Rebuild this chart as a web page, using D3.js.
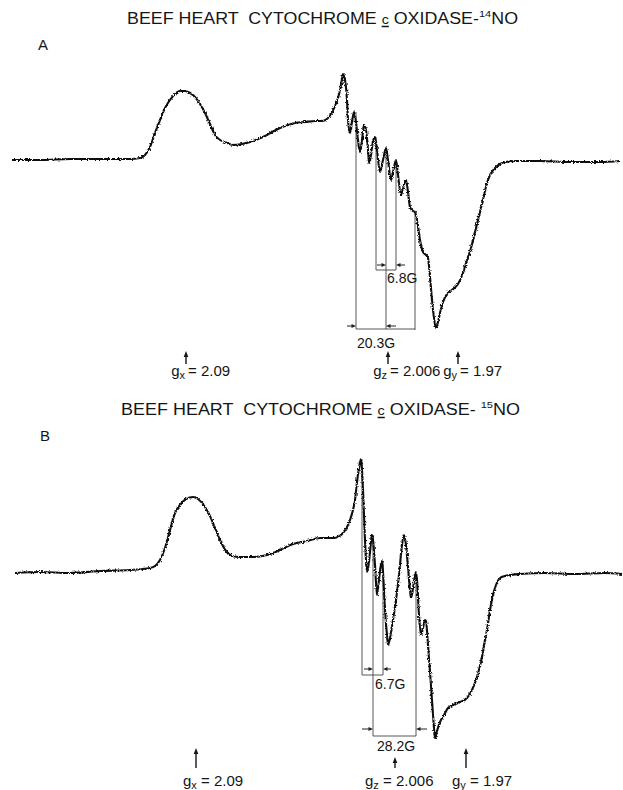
<!DOCTYPE html>
<html>
<head>
<meta charset="utf-8">
<script src="https://cdn.jsdelivr.net/npm/d3@7"></script>
<style>
  body { margin: 0; background: #fff; }
  svg { display: block; }
  text { font-family: "Liberation Sans", Arial, sans-serif; fill: #151515; white-space: pre; }
</style>
</head>
<body>
<svg id="fig" width="623" height="790"></svg>
<script>
// ── Data ──────────────────────────────────
// EPR first-derivative traces: [field position (arb. units), amplitude above baseline]
const specA = [
  [12,0],[40,0],[70,1],[100,1],[130,1],[140,2],[145,5],[150,13],[155,27],[160,40],[165,52],
  [170,60],[175,66],[180,69],[185,69],[190,67],[195,63],[200,56],[205,47],[210,36],[215,25],
  [220,20],[225,18],[233,15],[242,16],[250,18],[258,21],[265,24],[272,28],[280,32],[288,35],
  [295,37],[305,38],[315,39],[322,39],[327,41],[331,46],[335,54],[338,62],[340,70],[342,81],
  [343,86],[345,80],[347,60],[348,40],[350,27],[352,38],[354,48],[356,38],[358,20],[360,8],
  [362,20],[364,35],[366,30],[368,10],[369,-3],[371,5],[373,19],[375,23],[377,10],[380,-12],
  [383,0],[386,12],[388,0],[391,-20],[393,-12],[396,0],[398,-15],[401,-35],[403,-28],[406,-20],
  [408,-32],[410,-47],[413,-51],[415,-52],[417,-60],[420,-80],[423,-92],[426,-95],[428,-98],
  [430,-117],[432,-140],[434,-158],[436,-168],[438,-162],[440,-153],[443,-142],[447,-134],
  [452,-130],[458,-124],[463,-113],[467,-100],[471,-88],[475,-72],[480,-52],[484,-35],[487,-23],
  [490,-15],[494,-9],[500,-4],[506,-2],[515,-1],[540,-1],[570,-2],[600,-2],[620,-1]
];
const specB = [
  [15,-1],[40,0],[70,-1],[100,1],[130,2],[150,4],[155,6],[160,12],[165,24],[170,42],[175,59],
  [180,67],[186,73],[193,75],[198,73],[205,65],[210,56],[215,44],[220,32],[226,21],[232,16],
  [240,15],[253,15],[267,17],[280,22],[293,28],[307,31],[320,34],[333,34],[338,35],[343,39],
  [347,45],[350,52],[353,62],[355,72],[357,90],[359,104],[361,113],[362,102],[363,82],[364,57],
  [365,32],[366,12],[367,0],[369,10],[371,30],[372,37],[373,32],[375,7],[377,-23],[379,-8],
  [381,8],[382,11],[383,0],[385,-38],[387,-63],[388,-73],[390,-66],[393,-48],[396,-28],[399,-3],
  [402,27],[404,37],[406,27],[408,5],[410,-18],[411,-26],[413,-16],[415,-3],[416,0],[417,-8],
  [419,-43],[421,-63],[423,-56],[425,-48],[426,-49],[428,-73],[430,-100],[432,-128],[434,-156],
  [435,-166],[437,-159],[440,-150],[444,-143],[448,-136],[453,-133],[460,-130],[467,-126],
  [472,-118],[477,-105],[482,-85],[485,-68],[487,-58],[490,-38],[493,-23],[496,-13],[500,-6],
  [505,-4],[510,-3],[520,-2],[545,-1],[575,-2],[605,-1],[622,-2]
];

// hyperfine marker lines: field, top amplitude, bottom amplitude
const hfLinesA = [[356,48,-169],[386,12,-169],[415,-52,-170],[376,23,-110],[396,0,-110]];
const hfLinesB = [[362,113,-103],[373,37,-164],[383,11,-103],[416,0,-164]];
// bracket bars: from field, to field, amplitude
const barsA = [[376,396,-110],[356,415,-169]];
const barsB = [[362,383,-103],[373,416,-164]];
// splitting arrows: tip field, tail field, amplitude
const arrowsA = [[386,377,-105],[396,405,-105],[356,347,-166],[386,396,-166]];
const arrowsB = [[373,364,-97],[383,391,-97],[373,362,-157],[416,427,-157]];
// splitting labels: text, start field, amplitude of baseline
const splitA = [["6.8G",387,-123],["20.3G",357,-188]];
const splitB = [["6.7G",375,-117],["28.2G",377,-179]];

// g-value markers
const gAxes   = ["x", "z", "y"];
const gValues = ["2.09", "2.006", "1.97"];
const gFieldA = [186, 388, 458];
const gFieldB = [196, 395, 466];

const titleA = [["BEEF HEART  CYTOCHROME "],["c","u"],[" OXIDASE-"],["14","sup"],["NO"]];
const titleB = [["BEEF HEART  CYTOCHROME "],["c","u"],[" OXIDASE- "],["15","sup"],["NO"]];

// ── Scales ────────────────────────────────
const svg = d3.select("#fig");
const x  = d3.scaleLinear().domain([0, 623]).range([0, 623]);
const yA = d3.scaleLinear().domain([0, 100]).range([160, 60]);
const yB = d3.scaleLinear().domain([0, 100]).range([572, 472]);

// pen-recorder noise on the traces
const defs = svg.append("defs");
const flt = defs.append("filter").attr("id", "pen")
  .attr("x", "-2%").attr("y", "-5%").attr("width", "104%").attr("height", "110%");
flt.append("feTurbulence").attr("type", "fractalNoise")
  .attr("baseFrequency", "0.6").attr("numOctaves", 2).attr("seed", 4).attr("result", "n");
flt.append("feDisplacementMap").attr("in", "SourceGraphic").attr("in2", "n")
  .attr("scale", 3.2).attr("xChannelSelector", "R").attr("yChannelSelector", "G");

function hArrow(g, tip, tail, yy) {
  const dir = Math.sign(tip - tail);
  g.append("line").attr("x1", tail).attr("x2", tip - dir * 3).attr("y1", yy).attr("y2", yy)
    .attr("stroke", "#222").attr("stroke-width", 1);
  g.append("path").attr("d", `M${tip},${yy} L${tip - dir * 4.5},${yy - 2} L${tip - dir * 4.5},${yy + 2} Z`)
    .attr("fill", "#222");
}

function vArrow(g, xx, y0, y1) {
  g.append("line").attr("x1", xx).attr("x2", xx).attr("y1", y0).attr("y2", y1 + 4)
    .attr("stroke", "#151515").attr("stroke-width", 1.4);
  g.append("path").attr("d", `M${xx},${y1} L${xx - 2.3},${y1 + 6} L${xx + 2.3},${y1 + 6} Z`)
    .attr("fill", "#151515");
}

function drawTitle(parts, x0, base, len, size) {
  const t = svg.append("text").attr("x", x0).attr("y", base)
    .attr("font-size", size).attr("textLength", len).attr("lengthAdjust", "spacingAndGlyphs");
  let idx = 0, uIdx = -1;
  parts.forEach(([s, kind], i) => {
    const ts = t.append("tspan").text(s);
    if (kind === "sup") ts.attr("font-size", size * 0.62).attr("dy", -7);
    if (kind === "u") { ts.attr("font-size", size * 0.8); uIdx = idx; }
    if (i > 0 && parts[i - 1][1] === "sup") ts.attr("dy", 7);
    idx += s.length;
  });
  if (uIdx >= 0) {
    const b = t.node().getExtentOfChar(uIdx);
    svg.append("line").attr("x1", b.x).attr("x2", b.x + b.width)
      .attr("y1", base + 2.5).attr("y2", base + 2.5).attr("stroke", "#151515").attr("stroke-width", 1.5);
  }
}

function drawPanel(o) {
  const g = svg.append("g");
  const line = d3.line().x(d => x(d[0])).y(d => o.y(d[1])).curve(d3.curveMonotoneX);

  // marker lines + brackets
  const m = g.append("g").attr("stroke", "#444").attr("stroke-width", 0.9);
  o.lines.forEach(([f, t, b]) => m.append("line")
    .attr("x1", x(f)).attr("x2", x(f)).attr("y1", o.y(t)).attr("y2", o.y(b)));
  o.bars.forEach(([f0, f1, a]) => m.append("line")
    .attr("x1", x(f0)).attr("x2", x(f1)).attr("y1", o.y(a)).attr("y2", o.y(a)));
  o.arrows.forEach(([tip, tail, a]) => hArrow(g, x(tip), x(tail), o.y(a)));
  o.split.forEach(([s, f, a]) => g.append("text").attr("x", x(f)).attr("y", o.y(a))
    .attr("font-size", 14).text(s));

  // trace
  g.append("path").datum(o.data).attr("d", line)
    .attr("fill", "none").attr("stroke", "#111").attr("stroke-width", 2.1)
    .attr("stroke-linejoin", "round").attr("filter", "url(#pen)");

  // panel letter
  svg.append("text").attr("x", o.letterX).attr("y", o.letterY)
    .attr("font-size", 15).text(o.letter);
}

drawTitle(titleA, 127, 24, 391, 16);
drawPanel({ data: specA, y: yA, lines: hfLinesA, bars: barsA, arrows: arrowsA, split: splitA,
            letter: "A", letterX: 38, letterY: 50 });

drawTitle(titleB, 121, 415, 399, 16);
drawPanel({ data: specB, y: yB, lines: hfLinesB, bars: barsB, arrows: arrowsB, split: splitB,
            letter: "B", letterX: 40, letterY: 441 });

// g-value labels, panel A: arrow sits between symbol and "="
gAxes.forEach((ax, i) => {
  const fx = x(gFieldA[i]);
  vArrow(svg, fx, 364, 351);
  const t = svg.append("text").attr("x", fx - 1).attr("y", 376).attr("font-size", 15)
    .attr("text-anchor", "end");
  t.append("tspan").text("g");
  t.append("tspan").text(ax).attr("font-size", 11).attr("dy", 3);
  svg.append("text").attr("x", fx + 2).attr("y", 376).attr("font-size", 15)
    .text("= " + gValues[i]);
});

// g-value labels, panel B: arrow above label
const gBOffset = [-13, -30, -14];
const gBTop = [748, 757, 748];
gAxes.forEach((ax, i) => {
  const fx = x(gFieldB[i]);
  vArrow(svg, fx, 768, gBTop[i]);
  const t = svg.append("text").attr("x", fx + gBOffset[i]).attr("y", 786).attr("font-size", 15);
  t.append("tspan").text("g");
  t.append("tspan").text(ax).attr("font-size", 11).attr("dy", 3);
  t.append("tspan").text(" = " + gValues[i]).attr("dy", -3);
});
</script>
</body>
</html>
